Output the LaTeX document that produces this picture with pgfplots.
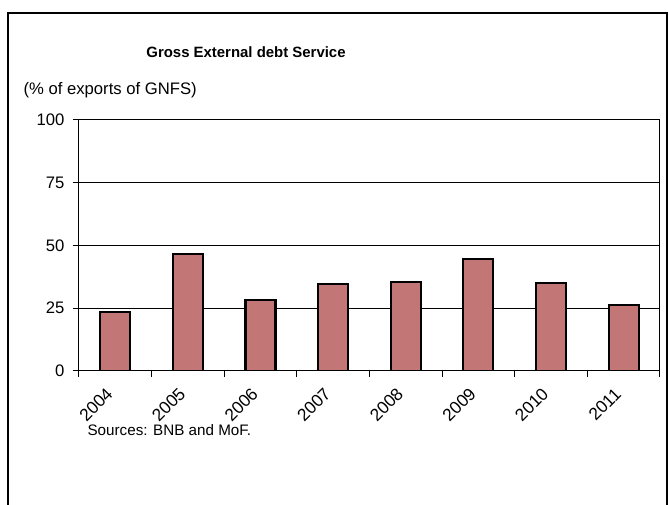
\documentclass[border=0pt]{standalone}
\usepackage{fontspec}
\setmainfont{Liberation Sans}
\usepackage{pgfplots}
\pgfplotsset{compat=1.18}
\definecolor{barfill}{RGB}{194,118,118}
\begin{document}
\fontsize{12}{14}\selectfont
\begin{tikzpicture}
\begin{scope}[x=0.75pt,y=-0.75pt]
\path[use as bounding box] (0,0) rectangle (669,505);
\draw[line width=1.6pt] (8,506) -- (8,13) -- (667,13) -- (667,506);
\node[font=\fontsize{11.2}{13}\selectfont\bfseries] at (246,52) {Gross External debt Service};
\node[anchor=west,font=\fontsize{12.5}{14}\selectfont] at (18,90) {(\% of exports of GNFS)};
\node[anchor=west,font=\fontsize{11.4}{13}\selectfont] at (82,430) {Sources: BNB and MoF.};
\end{scope}
\begin{axis}[
  at={(59.25pt,-278.25pt)}, anchor=south west,
  width=435.75pt, height=188.25pt, scale only axis,
  xmin=-0.5, xmax=7.5, ymin=0, ymax=100,
  axis line style={black, line width=0.75pt},
  ytick={0,25,50,75,100},
  ymajorgrids, grid style={black, line width=0.75pt},
  tick align=outside, major tick length=4.5pt,
  tick style={black, line width=0.75pt},
  ytick pos=left,
  xtick={0,...,7},
  xticklabels={2004,2005,2006,2007,2008,2009,2010,2011},
  xtick style={draw=none},
  extra x ticks={-0.5,0.5,...,7.5},
  extra x tick labels={},
  extra x tick style={xtick style={draw=black}, grid=none, xtick pos=bottom},
  xtick pos=bottom,
  xticklabel style={anchor=east, xshift=-1.35pt, yshift=-7.6pt, rotate=45, font=\fontsize{13}{15}\selectfont},
  yticklabel style={xshift=-2.25pt, font=\fontsize{12.5}{14}\selectfont},
  /pgf/number format/assume math mode=true,
  ybar, bar width=22.5pt,
]
\addplot[draw=black, line width=1.6pt, fill=barfill] coordinates {
(0,23.4) (1,46.5) (2,28.3) (3,34.7) (4,35.3) (5,44.5) (6,34.9) (7,26.3)};
\end{axis}
\end{tikzpicture}
\end{document}
